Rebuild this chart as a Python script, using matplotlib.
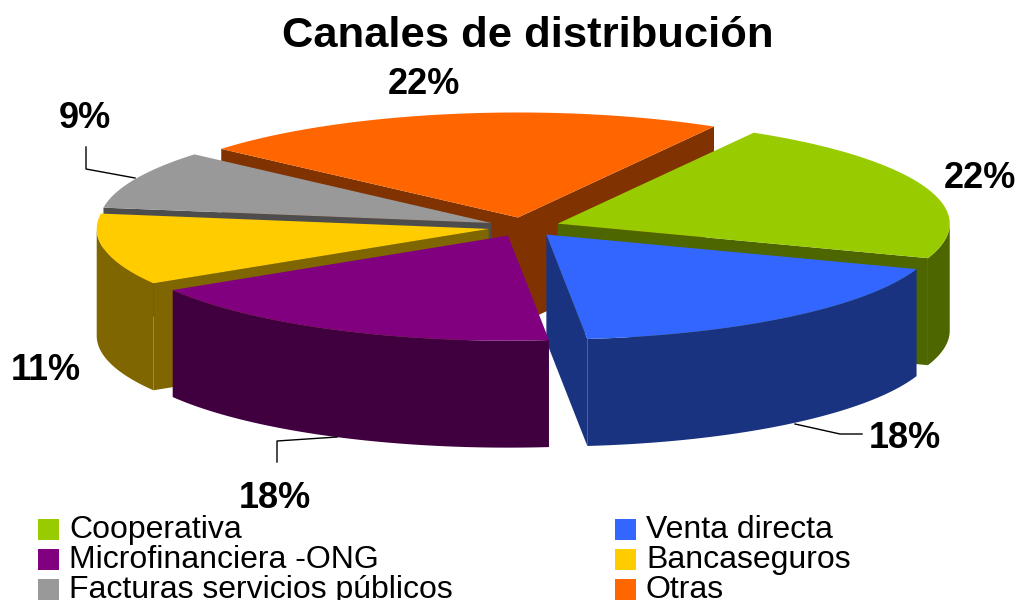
import matplotlib
matplotlib.use("Agg")
import matplotlib.pyplot as plt
import numpy as np

plt.rcParams["font.family"] = ["Liberation Sans", "DejaVu Sans"]

# datos
categorias = ["Cooperativa", "Venta directa", "Microfinanciera -ONG", "Bancaseguros",
              "Facturas servicios públicos", "Otras"]
valores = [22, 18, 18, 11, 9, 22]
etiquetas = ["22%", "18%", "18%", "11%", "9%", "22%"]
colores = ["#99CC00", "#3366FF", "#800080", "#FFCC00", "#999999", "#FF6600"]
oscuros = ["#4D6600", "#1A3380", "#400040", "#806600", "#4D4D4D", "#803300"]

# geometria del pastel (pixeles)
cx, cy = 524, 227
a, b = 392, 105
prof = 107
explode = 36
inicio = 60

fig = plt.figure(figsize=(10.19, 6.0), dpi=100)
ax = fig.add_axes([0, 0, 1, 1])
ax.set_xlim(0, 1019)
ax.set_ylim(600, 0)
ax.axis("off")

# angulos de cada porcion, en sentido horario
fin = inicio - np.cumsum(valores) * 3.6
ini = fin + np.array(valores) * 3.6


def punto(px, py, t):
    r = np.radians(t)
    return px + a * np.cos(r), py - b * np.sin(r)


# orden de dibujo: de atras hacia adelante
for i in [5, 4, 0, 3, 1, 2]:
    t0, t1 = ini[i], fin[i]
    m = np.radians((t0 + t1) / 2)
    px = cx + explode * np.cos(m)
    py = cy - explode * b / a * np.sin(m)

    # caras de corte visibles
    if np.cos(np.radians(t0)) < 0:
        x, y = punto(px, py, t0)
        ax.fill([px, x, x, px], [py, y, y + prof, py + prof], color=oscuros[i], lw=0)
    if np.cos(np.radians(t1)) > 0:
        x, y = punto(px, py, t1)
        ax.fill([px, x, x, px], [py, y, y + prof, py + prof], color=oscuros[i], lw=0)

    # pared exterior
    ts = np.linspace(t0, t1, 200)
    xs, ys = punto(px, py, ts)
    frente = np.sin(np.radians(ts)) <= 0
    if frente.any():
        xf, yf = xs[frente], ys[frente]
        ax.fill(np.r_[xf, xf[::-1]], np.r_[yf, yf[::-1] + prof], color=oscuros[i], lw=0)

    # cara superior
    ax.fill(np.r_[px, xs], np.r_[py, ys], color=colores[i], lw=0)

ax.text(528, 47, "Canales de distribución", fontsize=31.3, fontweight="bold", ha="center", va="baseline")

# etiquetas de porcentaje
pos_etq = [(980, 178), (905, 438), (275, 499), (46, 371), (85, 118), (424, 84)]
for txt, (x, y) in zip(etiquetas, pos_etq):
    ax.text(x, y, txt, fontsize=26, fontweight="bold", ha="center", va="center")

# lineas guia
ax.plot([795, 840, 862], [424, 434, 434], color="black", lw=1)
ax.plot([277, 277, 337], [462, 441, 437], color="black", lw=1)
ax.plot([86, 86, 135], [147, 169, 178], color="black", lw=1)

# leyenda
pos_ley = [(38, 519), (615, 519), (38, 549), (615, 549), (38, 579), (615, 579)]
for i, (x, y) in enumerate(pos_ley):
    ax.fill([x, x + 21, x + 21, x], [y, y, y + 21, y + 21], color=colores[i], lw=0)
    ax.text(x + 31, y + 19, categorias[i], fontsize=23, ha="left", va="baseline")

fig.savefig("out.png", dpi=100)
